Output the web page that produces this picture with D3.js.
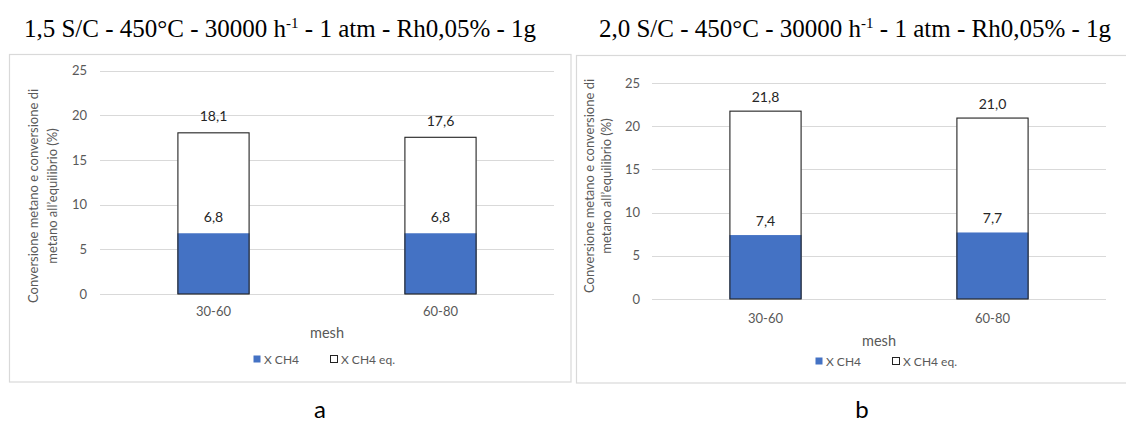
<!DOCTYPE html>
<html>
<head>
<meta charset="utf-8">
<script src="https://cdn.jsdelivr.net/npm/d3@7"></script>
<style>
  html, body { margin: 0; padding: 0; background: #ffffff; }
  svg { display: block; }
</style>
</head>
<body>
<svg id="chart" width="1126" height="422"></svg>
<script>
// Mesh size categories
const categories = ["30-60", "60-80"];

// Panel a: S/C = 1,5
const xch4A   = [6.8, 6.8];
const xch4eqA = [18.1, 17.6];

// Panel b: S/C = 2,0
const xch4B   = [7.4, 7.7];
const xch4eqB = [21.8, 21.0];

const yTicks = [0, 5, 10, 15, 20, 25];
const seriesNames = ["X CH4", "X CH4 eq."];
const panelLetters = ["a", "b"];
const titleMain = ["1,5 S/C - 450°C - 30000 h", "2,0 S/C - 450°C - 30000 h"];
const titleSup = "-1";
const titleRest = " - 1 atm - Rh0,05% - 1g";
const yTitleLines = ["Conversione metano e conversione di", "metano all\u2019equilibrio (%)"];
const xTitle = "mesh";

const fmt = v => v.toFixed(1).replace(".", ",");
const BLUE = "#4472C4";
const GRID = "#d9d9d9";
const AXIS_TXT = "#595959";
const LABEL_TXT = "#262626";
const SANS = "Lato, 'Open Sans', sans-serif";

const svg = d3.select("#chart");

const panels = [
  {
    letter: panelLetters[0], title: titleMain[0], xch4: xch4A, eq: xch4eqA,
    box: { x: 9.5, y: 54.5, w: 561.5, h: 327.5 },
    plot: { x0: 100, x1: 554, y0: 294, y1: 70.7 },
    titleX: 280, titleY: 37,
    yTitle: { x1: 33, x2: 52, cy: 196 },
    tickX: 87, tickLabelY: 311, xTitleY: 338, legendY: 360, legendX: 253,
    labelOff: 11, letterX: 320, letterY: 418
  },
  {
    letter: panelLetters[1], title: titleMain[1], xch4: xch4B, eq: xch4eqB,
    box: { x: 576.5, y: 55.5, w: 560, h: 327.5 },
    plot: { x0: 652, x1: 1106, y0: 299, y1: 83 },
    titleX: 855, titleY: 37,
    yTitle: { x1: 589, x2: 606, cy: 186 },
    tickX: 640, tickLabelY: 318, xTitleY: 346, legendY: 362, legendX: 815,
    labelOff: 9, letterX: 862, letterY: 418
  }
];

panels.forEach(p => {
  const g = svg.append("g");

  // Chart area frame
  g.append("rect")
    .attr("x", p.box.x).attr("y", p.box.y)
    .attr("width", p.box.w).attr("height", p.box.h)
    .attr("fill", "none").attr("stroke", GRID).attr("stroke-width", 1.2);

  // Title (serif, with superscript)
  const t = svg.append("text")
    .attr("x", p.titleX).attr("y", p.titleY)
    .attr("text-anchor", "middle")
    .attr("font-family", "'Liberation Serif', 'Times New Roman', serif")
    .attr("font-size", 25).attr("fill", "#000");
  t.append("tspan").text(p.title);
  t.append("tspan").attr("font-size", 15).attr("dy", -9).text(titleSup);
  t.append("tspan").attr("dy", 9).text(titleRest);

  const x = d3.scaleBand()
    .domain(categories)
    .range([p.plot.x0, p.plot.x1])
    .paddingInner(0.682)
    .paddingOuter(0.341);

  const y = d3.scaleLinear()
    .domain([0, 25])
    .range([p.plot.y0, p.plot.y1]);

  // Horizontal gridlines
  g.append("g").selectAll("line").data(yTicks).join("line")
    .attr("x1", p.plot.x0).attr("x2", p.plot.x1)
    .attr("y1", d => Math.round(y(d)) + 0.5).attr("y2", d => Math.round(y(d)) + 0.5)
    .attr("stroke", GRID).attr("stroke-width", 1.2);

  // Y tick labels via axis
  const yAxis = d3.axisLeft(y).tickValues(yTicks).tickSize(0).tickPadding(0)
    .tickFormat(d3.format("d"));
  const ya = g.append("g").attr("transform", `translate(${p.tickX},0)`).call(yAxis);
  ya.select(".domain").remove();
  ya.selectAll("text").attr("font-family", SANS).attr("font-size", 13)
    .attr("fill", AXIS_TXT);

  // X tick labels via axis
  const xAxis = d3.axisBottom(x).tickSize(0).tickPadding(0);
  const xa = g.append("g").attr("transform", `translate(0,${p.tickLabelY})`).call(xAxis);
  xa.select(".domain").remove();
  xa.selectAll("text").attr("font-family", SANS).attr("font-size", 13)
    .attr("fill", AXIS_TXT).attr("dy", "0.35em");

  // Equilibrium conversion bars (white, outlined)
  const rows = categories.map((c, i) => ({ c, v: p.xch4[i], e: p.eq[i] }));
  g.append("g").selectAll("rect").data(rows).join("rect")
    .attr("x", d => x(d.c)).attr("width", x.bandwidth())
    .attr("y", d => y(d.e)).attr("height", d => y(0) - y(d.e))
    .attr("fill", "#fff");

  // Measured conversion bars (blue)
  g.append("g").selectAll("rect").data(rows).join("rect")
    .attr("x", d => x(d.c)).attr("width", x.bandwidth())
    .attr("y", d => y(d.v)).attr("height", d => y(0) - y(d.v))
    .attr("fill", BLUE);

  // Outline of the equilibrium bars on top
  g.append("g").selectAll("rect").data(rows).join("rect")
    .attr("x", d => x(d.c) + 0.5).attr("width", x.bandwidth() - 1)
    .attr("y", d => y(d.e) + 0.5).attr("height", d => y(0) - y(d.e) - 0.5)
    .attr("fill", "none").attr("stroke", "#222").attr("stroke-width", 1.1);

  // Value labels
  const lbl = g.append("g").attr("font-family", SANS).attr("font-size", 14)
    .attr("fill", LABEL_TXT).attr("text-anchor", "middle");
  lbl.selectAll("text.eq").data(rows).join("text").attr("class", "eq")
    .attr("x", d => x(d.c) + x.bandwidth() / 2)
    .attr("y", d => y(d.e) - p.labelOff)
    .text(d => fmt(d.e));
  lbl.selectAll("text.v").data(rows).join("text").attr("class", "v")
    .attr("x", d => x(d.c) + x.bandwidth() / 2)
    .attr("y", d => y(d.v) - p.labelOff)
    .text(d => fmt(d.v));

  // Y axis title (two lines, rotated)
  const yt = g.append("g").attr("font-family", SANS).attr("font-size", 13)
    .attr("fill", AXIS_TXT).attr("text-anchor", "middle");
  [p.yTitle.x1, p.yTitle.x2].forEach((xx, i) => {
    yt.append("text")
      .attr("transform", `translate(${xx + 5},${p.yTitle.cy}) rotate(-90)`)
      .text(yTitleLines[i]);
  });

  // X axis title
  g.append("text")
    .attr("x", (p.plot.x0 + p.plot.x1) / 2).attr("y", p.xTitleY)
    .attr("text-anchor", "middle")
    .attr("font-family", SANS).attr("font-size", 14.5).attr("fill", AXIS_TXT)
    .text(xTitle);

  // Legend
  const lg = g.append("g").attr("transform", `translate(${p.legendX},${p.legendY})`);
  const items = [
    { name: seriesNames[0], fill: BLUE, stroke: "none", dx: 0 },
    { name: seriesNames[1], fill: "#fff", stroke: "#222", dx: 77 }
  ];
  items.forEach(it => {
    lg.append("rect").attr("x", it.dx + 0.5).attr("y", -4.5).attr("width", 7).attr("height", 7)
      .attr("fill", it.fill).attr("stroke", it.stroke).attr("stroke-width", 1);
    lg.append("text").attr("x", it.dx + 11).attr("y", 3.5)
      .attr("font-family", SANS).attr("font-size", 12).attr("fill", AXIS_TXT)
      .text(it.name);
  });

  // Panel letter
  svg.append("text")
    .attr("x", p.letterX).attr("y", p.letterY)
    .attr("text-anchor", "middle")
    .attr("font-family", SANS).attr("font-size", 24).attr("fill", "#000")
    .text(p.letter);
});
</script>
</body>
</html>
